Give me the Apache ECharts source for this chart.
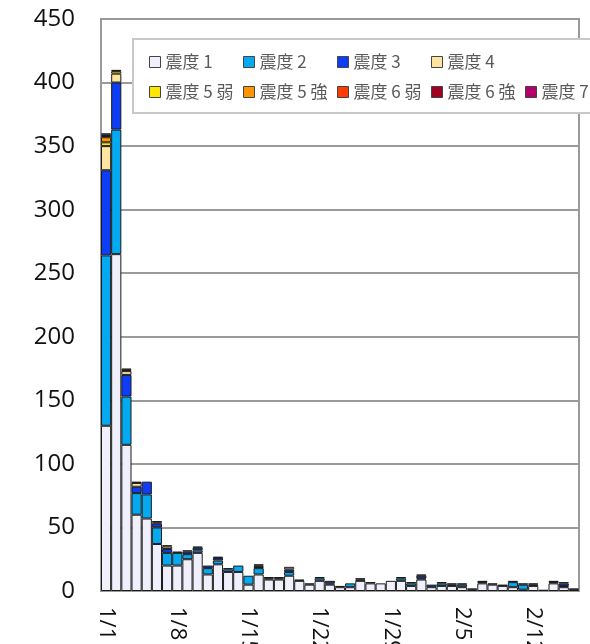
<!DOCTYPE html>
<html>
<head>
<meta charset="utf-8">
<script src="https://cdn.jsdelivr.net/npm/echarts@6/dist/echarts.min.js"></script>
<style>html,body{margin:0;padding:0;background:#fff;}#c{width:590px;height:644px;}</style>
</head>
<body>
<div id="c"></div>
<script>
const dates = ['1/1','1/2','1/3','1/4','1/5','1/6','1/7','1/8','1/9','1/10','1/11','1/12','1/13','1/14','1/15','1/16','1/17','1/18','1/19','1/20','1/21','1/22','1/23','1/24','1/25','1/26','1/27','1/28','1/29','1/30','1/31','2/1','2/2','2/3','2/4','2/5','2/6','2/7','2/8','2/9','2/10','2/11','2/12','2/13','2/14','2/15','2/16'];
const seriesNames = ['震度 1','震度 2','震度 3','震度 4','震度 5 弱','震度 5 強','震度 6 弱','震度 6 強','震度 7'];
const yTicks = [0,50,100,150,200,250,300,350,400,450];

const shindo1  = [130,265,115,60,57,37,20,20,25,30,13,21,15,15,5,13,9,9,12,8,5,8,5,3,3,8,6,6,8,8,4,9,3,4,4,3,1,6,5,4,3,1,4,1,6,3,1];
const shindo2  = [134,98,38,17,19,13,10,10,4,2,5,3,2,5,7,5,1,1,3,0,1,2,1,0,3,1,0,0,0,2,2,1,0,2,1,2,0,1,0,1,4,4,1,0,1,1,0];
const shindo3  = [67,37,17,5,10,3,3,1,2,2,2,2,1,0,0,1,1,1,2,1,0,1,2,1,0,1,1,0,0,1,1,2,2,1,1,1,1,1,1,0,1,1,1,0,1,2,1];
const shindo4  = [19,7,3,3,0,1,2,0,0,1,0,1,0,0,0,1,0,0,2,0,0,0,0,0,0,0,0,0,0,0,0,1,0,0,0,0,0,0,0,0,0,0,0,0,0,1,0];
const shindo5l = [3,2,1,1,0,0,1,0,1,0,0,0,0,0,0,1,0,0,0,0,0,0,0,0,0,0,0,0,0,0,0,0,0,0,0,0,0,0,0,0,0,0,0,0,0,0,0];
const shindo5u = [4,1,1,0,0,0,0,0,0,0,0,0,0,0,0,0,0,0,0,0,0,0,0,0,0,0,0,0,0,0,0,0,0,0,0,0,0,0,0,0,0,0,0,0,0,0,0];
const shindo6l = [1,0,0,0,0,1,0,0,0,0,0,0,0,0,0,0,0,0,0,0,0,0,0,0,0,0,0,0,0,0,0,0,0,0,0,0,0,0,0,0,0,0,0,0,0,0,0];
const shindo6u = [1,0,0,0,0,0,0,0,0,0,0,0,0,0,0,0,0,0,0,0,0,0,0,0,0,0,0,0,0,0,0,0,0,0,0,0,0,0,0,0,0,0,0,0,0,0,0];
const shindo7  = [1,0,0,0,0,0,0,0,0,0,0,0,0,0,0,0,0,0,0,0,0,0,0,0,0,0,0,0,0,0,0,0,0,0,0,0,0,0,0,0,0,0,0,0,0,0,0];

const allValues = [shindo1,shindo2,shindo3,shindo4,shindo5l,shindo5u,shindo6l,shindo6u,shindo7];
const colors = ['#eff0fb','#05a9f0','#0d3ef5','#fce5a0','#ffe600','#ff9600','#ff3c00','#a00020','#b4006e'];

const chart = echarts.init(document.getElementById('c'));
const series = seriesNames.map((name, i) => ({
  name: name,
  type: 'bar',
  stack: 'total',
  barCategoryGap: '0%',
  data: allValues[i].map(v => v === 0 ? '-' : v),
  itemStyle: { color: colors[i], borderColor: '#1a1a1a', borderWidth: 1 },
  emphasis: { disabled: true }
}));

const legends = seriesNames.map((name, i) => {
  const row = i < 4 ? 0 : 1;
  const col = i < 4 ? i : i - 4;
  return {
    data: [name],
    left: 149 + col * 94,
    top: row === 0 ? 52 : 82,
    padding: 0,
    itemWidth: 11,
    itemHeight: 11,
    icon: 'rect',
    selectedMode: false,
    itemStyle: { borderColor: '#444', borderWidth: 1 },
    textStyle: { fontSize: 17, color: '#595959', fontFamily: 'Noto Sans CJK JP', lineHeight: 20 },
    z: 5
  };
});

chart.setOption({
  animation: false,
  color: colors,
  grid: { left: 101, right: 11, top: 19, bottom: 53, outerBoundsMode: 'none', containLabel: false, show: true, borderColor: '#9a9a9a', borderWidth: 2 },
  xAxis: {
    type: 'category',
    data: dates,
    boundaryGap: true,
    axisLine: { lineStyle: { color: '#9a9a9a', width: 2 } },
    axisTick: { interval: 6, length: 6, lineStyle: { color: '#9a9a9a', width: 2 } },
    axisLabel: { interval: 6, rotate: -90, margin: 16, fontSize: 22, color: '#111', fontFamily: 'Open Sans', hideOverlap: false }
  },
  yAxis: {
    type: 'value',
    min: yTicks[0],
    max: yTicks[yTicks.length - 1],
    interval: 50,
    axisLine: { show: false },
    axisTick: { show: false },
    splitLine: { lineStyle: { color: '#9a9a9a', width: 2 } },
    axisLabel: { margin: 26, fontSize: 24, color: '#111', fontFamily: 'Open Sans' }
  },
  graphic: [{
    type: 'rect',
    z: 4,
    shape: { x: 133, y: 39, width: 480, height: 74 },
    style: { fill: '#ffffff', stroke: '#c8c8c8', lineWidth: 2 }
  }],
  legend: legends,
  series: series
});
</script>
</body>
</html>
